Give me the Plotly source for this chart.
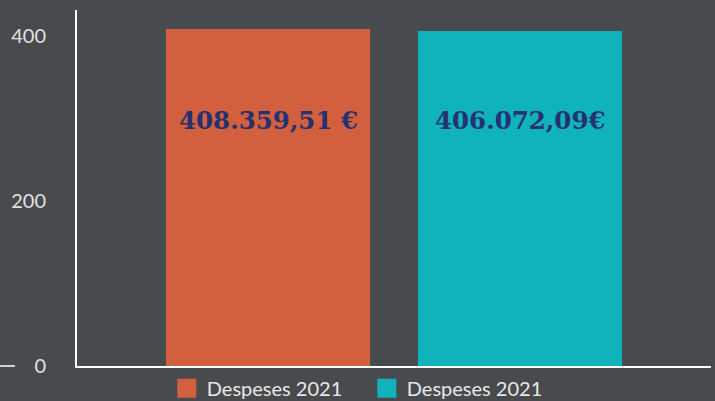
import plotly.graph_objects as go

series_names = ["Despeses 2021", "Despeses 2021"]
values = [408.35951, 406.07209]
value_labels = ["408.359,51 €", "406.072,09€"]
colors = ["#d25f3e", "#10b2bb"]
y_ticks = [0, 200, 400]

BG = "#474b4e"

fig = go.Figure()
for i, (name, v, c) in enumerate(zip(series_names, values, colors)):
    fig.add_trace(go.Bar(x=[i], y=[v], name=name, marker=dict(color=c, line=dict(width=0)),
                         width=0.81, hoverinfo="skip", showlegend=False))
    fig.add_trace(go.Scatter(x=[None], y=[None], mode="markers", name=name,
                             marker=dict(symbol="square", size=21, color=c,
                                         line=dict(color=c, width=3)), showlegend=True))
    fig.add_annotation(x=i, y=0.691, xref="x", yref="paper", yanchor="middle",
                       text="<b>%s</b>" % value_labels[i],
                       showarrow=False, font=dict(family="DejaVu Serif", size=24.5, color="#253170"))

fig.add_shape(type="line", xref="paper", yref="paper", x0=-0.125, x1=-0.098, y0=0, y1=0,
              line=dict(color="white", width=1.5))

fig.update_layout(
    width=715, height=401,
    paper_bgcolor=BG, plot_bgcolor=BG,
    margin=dict(l=77, r=4, t=10, b=35, autoexpand=False),
    barmode="overlay",
    showlegend=True,
    legend=dict(orientation="h", xref="container", yref="container",
                x=0.513, xanchor="center", y=0.032, yanchor="middle",
                font=dict(family="Lato", size=20, color="#e8e8e8"),
                entrywidth=155,
                bgcolor="rgba(0,0,0,0)", itemsizing="trace"),
    xaxis=dict(range=[-0.758, 1.758], showticklabels=False, showgrid=False, zeroline=False,
               showline=True, linecolor="white", linewidth=1.5, ticks=""),
    yaxis=dict(range=[0, 431.5], tickvals=y_ticks, showgrid=False, zeroline=False,
               showline=True, linecolor="white", linewidth=2, ticks="",
               ticklabelstandoff=25,
               tickfont=dict(family="Lato", size=20, color="#e0e0e0")),
)

fig.write_html("out.html", config={"displayModeBar": False},
               post_script="document.body.style.margin='0';document.body.style.padding='0';")
